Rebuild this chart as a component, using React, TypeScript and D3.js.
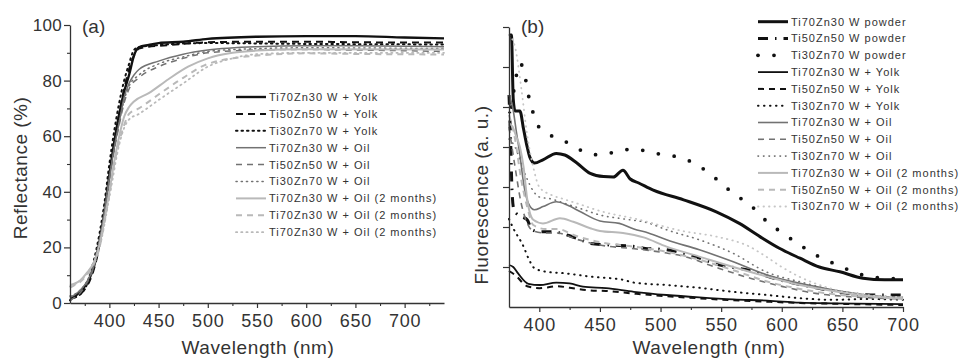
import React, { useRef, useEffect } from "react"
import * as d3 from "d3"

type Pt = [number, number]

// ---- panel (a): reflectance (%) vs wavelength (nm)
const aYolk7030: Pt[] = [[360,2],[365,2.5],[370,4],[375,6],[380,9],[385,14],[390,22],[395,33],[400,46],[405,58],[410,68],[415,76],[420,82],[425,89],[430,92],[440,92.8],[450,93.5],[475,94],[500,95],[550,95.8],[600,96],[650,96],[700,95.5],[740,95.2]]
const aYolk5050: Pt[] = [[360,1.5],[365,2],[370,3],[375,5],[380,8],[385,13],[390,21],[395,32],[400,45],[405,57],[410,68],[415,77],[420,84],[425,89],[430,91.5],[440,92.2],[450,92.5],[475,93.2],[500,93.8],[550,94],[600,94],[650,93.8],[700,93.7],[740,93.7]]
const aYolk3070: Pt[] = [[360,1],[365,2],[370,3],[377,6.5],[384,15],[390,25],[395,36],[400,50],[405,62],[410,72],[415,80],[420,86],[425,91],[430,92],[450,92.8],[500,93.5],[600,93.2],[740,93]]
const aOil7030: Pt[] = [[360,2],[365,3],[370,4.5],[375,6.5],[380,9.5],[385,14],[390,22],[395,33],[400,45],[405,56],[410,65],[415,74],[420,79],[425,82],[430,84],[450,87],[475,89.5],[500,91],[550,92.2],[600,92.5],[650,92.5],[740,92.2]]
const aOil5050: Pt[] = [[360,1],[365,2],[370,3.5],[375,6],[380,9],[385,14],[390,21],[395,32],[400,44],[405,55],[410,64],[415,72],[420,77],[430,81],[450,85],[475,88],[500,90],[550,91],[600,91.2],[650,91],[740,90.5]]
const aOil3070: Pt[] = [[360,2.5],[370,4.5],[380,10],[390,23],[400,45],[410,65],[415,73],[420,78],[430,82],[450,86],[475,88.5],[500,90.5],[550,91.5],[600,91.8],[740,91.5]]
const aOld1: Pt[] = [[360,6.5],[365,7],[370,8],[377,10.8],[384,14.4],[390,21],[395,30],[400,40],[405,51],[410,60],[415,67],[420,70.5],[425,72.5],[440,75.5],[460,80.5],[480,85],[500,88],[525,90],[550,90.8],[600,91.3],[740,91.2]]
const aOld2: Pt[] = [[360,5.5],[365,6.5],[370,7.5],[377,10],[384,14],[390,20],[395,29],[400,39],[405,50],[410,58],[415,64],[420,68],[430,70],[450,75],[475,81],[500,86],[550,89],[600,89.8],[650,89.6],[740,89.4]]
const aOld3: Pt[] = [[360,6],[370,8],[380,12],[390,20],[400,38],[410,57],[415,63],[420,66],[430,68],[450,73],[475,79],[500,85],[525,88],[550,89.5],[600,90],[740,90]]

const aLabels = [
  "Ti70Zn30 W + Yolk", "Ti50Zn50 W + Yolk", "Ti30Zn70 W + Yolk",
  "Ti70Zn30 W + Oil", "Ti50Zn50 W + Oil", "Ti30Zn70 W + Oil",
  "Ti70Zn30 W + Oil (2 months)", "Ti70Zn30 W + Oil (2 months)", "Ti70Zn30 W + Oil (2 months)",
]
const aYTicks = [0, 20, 40, 60, 80, 100]
const aXTicks = [400, 450, 500, 550, 600, 650, 700]

// ---- panel (b): fluorescence (a. u.) vs wavelength (nm)
const bPow7030: Pt[] = [[375,6.8],[377,6.8],[378.5,5.2],[380,4.9],[384,4.9],[387,4.45],[390,4.0],[392,3.76],[396,3.6],[403,3.68],[414,3.84],[421,3.8],[431,3.6],[442,3.34],[453,3.26],[461,3.25],[469,3.42],[475,3.2],[482,3.1],[494,2.92],[519,2.68],[546,2.38],[565,2.09],[582,1.76],[598,1.47],[615,1.22],[631,1.0],[648,0.88],[667,0.72],[685,0.68],[700,0.68]]
const bPow5050: Pt[] = [[375,5.3],[376.5,4.0],[377.5,2.9],[379,2.43],[381,2.34],[386,2.25],[390,2.18],[394,1.93],[401,1.88],[413,1.88],[416,1.86],[425,1.78],[434,1.68],[442,1.59],[458,1.55],[480,1.51],[486,1.47],[505,1.43],[524,1.3],[549,1.05],[571,0.93],[598,0.68],[625,0.5],[652,0.35],[680,0.3],[700,0.3]]
const bPow3070: Pt[] = [[377,5.0],[380,5.6],[384,6.1],[388,5.8],[391,5.3],[394,4.95],[398,4.58],[404,4.4],[410,4.28],[424,4.1],[437,3.88],[451,3.8],[465,3.9],[479,3.95],[493,3.85],[506,3.8],[520,3.7],[533,3.5],[546,3.2],[560,2.84],[574,2.55],[588,2.13],[601,1.84],[615,1.55],[628,1.3],[642,1.1],[655,0.93],[669,0.78],[684,0.72],[700,0.7]]
const bYolk7030: Pt[] = [[375,1.05],[378.5,1.0],[382.5,0.84],[391,0.58],[400.5,0.55],[414,0.61],[425,0.59],[436,0.51],[455,0.47],[478,0.38],[505,0.3],[532,0.24],[560,0.19],[588,0.16],[615,0.11],[642,0.09],[700,0.07]]
const bYolk5050: Pt[] = [[375,0.9],[380,0.8],[390,0.52],[400,0.47],[415,0.52],[425,0.48],[440,0.42],[455,0.4],[480,0.33],[505,0.27],[530,0.22],[560,0.17],[590,0.13],[615,0.1],[645,0.08],[700,0.05]]
const bYolk3070: Pt[] = [[375,2.2],[378.5,1.97],[387,1.51],[391,1.22],[396,0.97],[406,0.88],[422,0.84],[442,0.76],[469,0.68],[478,0.61],[505,0.55],[532,0.48],[560,0.38],[588,0.3],[615,0.22],[642,0.18],[670,0.2],[700,0.18]]
const bOil7030: Pt[] = [[375,5.3],[378,5.0],[381,4.4],[384,3.8],[387,3.1],[391,2.59],[396,2.43],[403,2.51],[414,2.63],[423,2.55],[434,2.38],[450,2.15],[466,2.09],[478,1.95],[490,1.85],[505,1.68],[532,1.43],[560,1.13],[588,0.8],[615,0.59],[642,0.43],[670,0.3],[700,0.22]]
const bOil5050: Pt[] = [[375,4.5],[380,3.5],[385,2.6],[390,2.1],[395,1.9],[405,1.85],[415,1.85],[430,1.7],[450,1.55],[480,1.45],[505,1.35],[520,1.26],[545,1.0],[574,0.72],[601,0.51],[628,0.34],[660,0.25],[700,0.2]]
const bOil3070: Pt[] = [[375,4.2],[380,4.0],[385,3.6],[390,3.2],[395,2.9],[400,2.75],[410,2.7],[420,2.6],[435,2.45],[450,2.3],[470,2.2],[490,2.1],[505,1.93],[532,1.68],[560,1.34],[587,0.88],[615,0.63],[642,0.43],[670,0.3],[700,0.25]]
const bOld7030: Pt[] = [[375,4.6],[378,4.5],[381,4.26],[384,4.0],[387,3.5],[390,2.7],[395,2.18],[403,2.09],[417,2.22],[428,2.13],[442,1.97],[450,1.9],[469,1.85],[486,1.74],[505,1.51],[532,1.26],[560,1.0],[588,0.76],[615,0.55],[642,0.4],[670,0.28],[700,0.2]]
const bOld5050: Pt[] = [[375,4.8],[380,4.2],[385,3.2],[390,2.5],[395,2.05],[405,1.95],[415,1.95],[430,1.78],[450,1.62],[480,1.5],[505,1.38],[530,1.2],[560,0.92],[590,0.62],[615,0.45],[640,0.33],[670,0.25],[700,0.22]]
const bOld3070: Pt[] = [[375,6.8],[380,6.5],[385,5.5],[390,4.3],[395,3.5],[400,3.0],[410,2.8],[420,2.7],[435,2.55],[450,2.4],[480,2.2],[518,1.9],[546,1.76],[574,1.5],[587,1.26],[600,1.0],[615,0.75],[642,0.45],[670,0.3],[700,0.25]]

const bLabels = [
  "Ti70Zn30 W powder", "Ti50Zn50 W powder", "Ti30Zn70 W powder",
  "Ti70Zn30 W + Yolk", "Ti50Zn50 W + Yolk", "Ti30Zn70 W + Yolk",
  "Ti70Zn30 W + Oil", "Ti50Zn50 W + Oil", "Ti30Zn70 W + Oil",
  "Ti70Zn30 W + Oil (2 months)", "Ti50Zn50 W + Oil (2 months)", "Ti30Zn70 W + Oil (2 months)",
]
const bYTicks = [1, 2, 3, 4, 5, 6, 7]
const bXTicks = [400, 450, 500, 550, 600, 650, 700]

const FONT = "Arial, 'Liberation Sans', sans-serif"
const INK = "#333"
const BLACK = "#111"
const GREY = "#727272"
const LIGHT = "#b9b9b9"

interface Style { color: string; width: number; dash: string | null; cap?: string }

const aStyles: Style[] = [
  { color: BLACK, width: 2.4, dash: null },
  { color: BLACK, width: 2, dash: "7,5" },
  { color: BLACK, width: 2, dash: "1.5,4", cap: "round" },
  { color: GREY, width: 1.5, dash: null },
  { color: GREY, width: 1.5, dash: "6,5" },
  { color: GREY, width: 1.5, dash: "1.2,4", cap: "round" },
  { color: LIGHT, width: 2, dash: null },
  { color: LIGHT, width: 2, dash: "6,5" },
  { color: LIGHT, width: 1.8, dash: "1.2,4", cap: "round" },
]
const aSeries = [aYolk7030, aYolk5050, aYolk3070, aOil7030, aOil5050, aOil3070, aOld1, aOld2, aOld3]

const bStyles: Style[] = [
  { color: BLACK, width: 3, dash: null },
  { color: BLACK, width: 3, dash: "10,7,1.5,7" },
  { color: BLACK, width: 3.8, dash: "0,16", cap: "round" },
  { color: BLACK, width: 1.8, dash: null },
  { color: BLACK, width: 2, dash: "6,5" },
  { color: BLACK, width: 2, dash: "0.5,5.5", cap: "round" },
  { color: GREY, width: 1.6, dash: null },
  { color: GREY, width: 1.6, dash: "6,5" },
  { color: GREY, width: 1.6, dash: "0.5,5", cap: "round" },
  { color: LIGHT, width: 2, dash: null },
  { color: LIGHT, width: 2, dash: "6,5" },
  { color: "#c6c6c6", width: 1.8, dash: "0.5,5", cap: "round" },
]
const bSeries = [bPow7030, bPow5050, bPow3070, bYolk7030, bYolk5050, bYolk3070, bOil7030, bOil5050, bOil3070, bOld7030, bOld5050, bOld3070]

function styleLine(sel: any, s: Style) {
  sel.attr("fill", "none").attr("stroke", s.color).attr("stroke-width", s.width)
    .attr("stroke-linecap", s.cap ?? "butt").attr("stroke-linejoin", "round")
  if (s.dash) sel.attr("stroke-dasharray", s.dash)
  return sel
}

export default function App() {
  const svgRef = useRef<SVGSVGElement>(null)

  useEffect(() => {
    const svg = d3.select(svgRef.current)
    svg.selectAll("*").remove()

    const drawPanel = (opts: {
      left: number; right: number; top: number; bottom: number
      xDom: [number, number]; yDom: [number, number]
      xTicks: number[]; xMinor: number[]; yTicks: number[]; yMinor: number[]; yLabels: boolean
      series: Pt[][]; styles: Style[]
      title: string; titleX: number; titleY: number; tag: string; tagX: number
    }) => {
      const x = d3.scaleLinear().domain(opts.xDom).range([opts.left, opts.right])
      const y = d3.scaleLinear().domain(opts.yDom).range([opts.bottom, opts.top])

      const line = d3.line<Pt>().x((d) => x(d[0])).y((d) => y(d[1])).curve(d3.curveMonotoneX)
      const g = svg.append("g")
      opts.series.forEach((data, i) => {
        styleLine(g.append("path").datum(data).attr("d", line), opts.styles[i])
      })

      // minor ticks
      svg.append("g").attr("transform", `translate(0,${opts.bottom})`)
        .call(d3.axisBottom(x).tickValues(opts.xMinor).tickSize(3).tickSizeOuter(0).tickFormat(() => ""))
        .call((a) => a.select(".domain").remove())
        .call((a) => a.selectAll(".tick line").attr("stroke", INK).attr("stroke-width", 1.1))
      if (opts.yMinor.length) {
        svg.append("g").attr("transform", `translate(${opts.left},0)`)
          .call(d3.axisLeft(y).tickValues(opts.yMinor).tickSize(3).tickSizeOuter(0).tickFormat(() => ""))
          .call((a) => a.select(".domain").remove())
          .call((a) => a.selectAll(".tick line").attr("stroke", INK).attr("stroke-width", 1.1))
      }

      // major axes
      svg.append("g").attr("transform", `translate(0,${opts.bottom})`)
        .call(d3.axisBottom(x).tickValues(opts.xTicks).tickSize(5).tickSizeOuter(0).tickPadding(6))
        .call((a) => a.select(".domain").attr("stroke", INK).attr("stroke-width", 1.3))
        .call((a) => a.selectAll(".tick line").attr("stroke", INK).attr("stroke-width", 1.2))
        .call((a) => a.selectAll("text").attr("fill", INK).attr("font-size", 18)
          .attr("font-family", FONT).attr("letter-spacing", 0.8))
      svg.append("g").attr("transform", `translate(${opts.left},0)`)
        .call(d3.axisLeft(y).tickValues(opts.yTicks).tickSize(6).tickSizeOuter(0).tickPadding(2)
          .tickFormat((d) => (opts.yLabels ? String(d) : "")))
        .call((a) => a.select(".domain").attr("stroke", INK).attr("stroke-width", 1.3))
        .call((a) => a.selectAll(".tick line").attr("stroke", INK).attr("stroke-width", 1.2))
        .call((a) => a.selectAll("text").attr("fill", INK).attr("font-size", 17)
          .attr("font-family", FONT).attr("letter-spacing", 0.3))

      svg.append("text").attr("x", (opts.left + opts.right) / 2 + opts.titleX).attr("y", 354)
        .attr("text-anchor", "middle").attr("fill", INK).attr("font-size", 19)
        .attr("font-family", FONT).attr("letter-spacing", 0.6).text("Wavelength (nm)")
      svg.append("text").attr("transform", `translate(${opts.titleY},${opts.tagX}) rotate(-90)`)
        .attr("text-anchor", "middle").attr("fill", INK).attr("font-size", 19)
        .attr("font-family", FONT).attr("letter-spacing", 0.5).text(opts.title)
      svg.append("text").attr("x", opts.left + 12).attr("y", 33)
        .attr("fill", INK).attr("font-size", 19).attr("font-family", FONT).text(opts.tag)
    }

    drawPanel({
      left: 70, right: 444, top: 25, bottom: 303,
      xDom: [360, 740], yDom: [0, 100],
      xTicks: aXTicks, xMinor: d3.range(375, 740, 50), yTicks: aYTicks, yMinor: d3.range(10, 100, 20), yLabels: true,
      series: aSeries, styles: aStyles,
      title: "Reflectance (%)", titleX: 1, titleY: 27, tag: "(a)", tagX: 168,
    })
    drawPanel({
      left: 509, right: 903, top: 27, bottom: 307,
      xDom: [375, 700], yDom: [0, 7],
      xTicks: bXTicks, xMinor: d3.range(425, 700, 50), yTicks: bYTicks, yMinor: [], yLabels: false,
      series: bSeries, styles: bStyles,
      title: "Fluorescence (a. u.)", titleX: 3, titleY: 488, tag: "(b)", tagX: 195,
    })

    // legends
    const legend = (labels: string[], styles: Style[], x0: number, y0: number, step: number) => {
      const lg = svg.append("g")
      labels.forEach((lab, i) => {
        const yy = y0 + i * step
        styleLine(lg.append("line").attr("x1", x0).attr("x2", x0 + 30).attr("y1", yy).attr("y2", yy), styles[i])
        lg.append("text").attr("x", x0 + 33).attr("y", yy).attr("dy", "0.36em")
          .attr("fill", "#333").attr("font-size", 11).attr("font-family", FONT)
          .attr("letter-spacing", 1).text(lab)
      })
    }
    legend(aLabels, aStyles, 236, 97, 16.9)
    legend(bLabels, bStyles, 758, 21.7, 16.8)
  }, [])

  return (
    <svg ref={svgRef} width={971} height={358}
      style={{ position: "absolute", left: 0, top: 0, background: "#fff", display: "block" }} />
  )
}
